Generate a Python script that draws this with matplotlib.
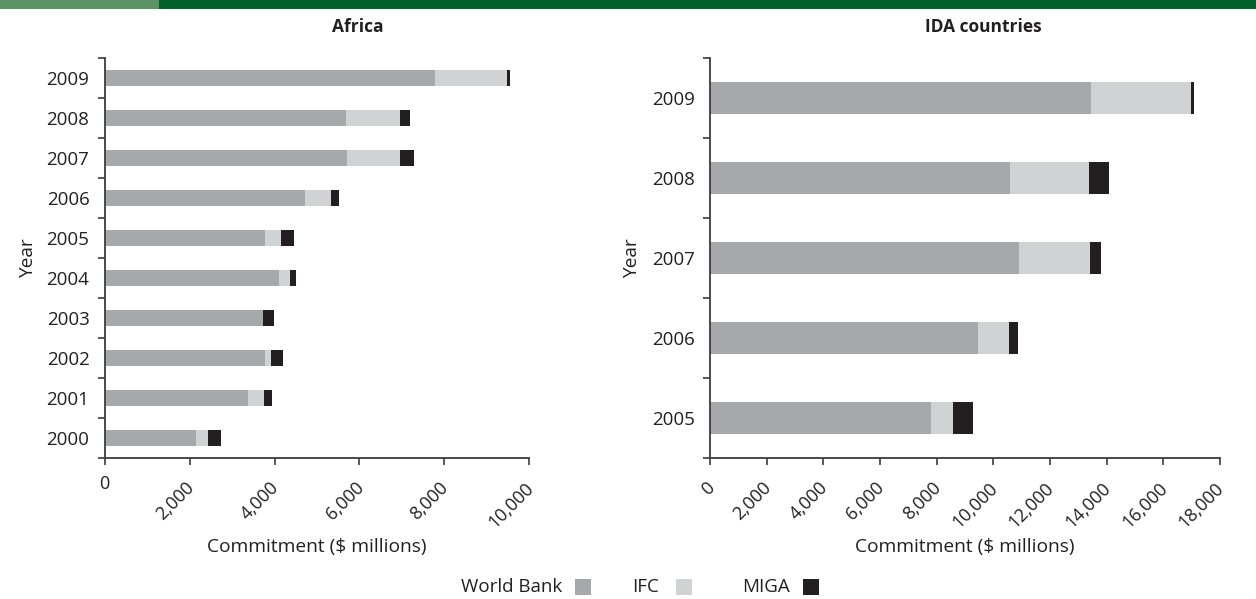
import matplotlib
matplotlib.use("Agg")
import matplotlib.pyplot as plt
from matplotlib.patches import Rectangle
from matplotlib.transforms import ScaledTranslation
import numpy as np

plt.rcParams['font.family'] = ['Open Sans', 'DejaVu Sans']

# Commitments, $ millions
africa_years = ['2000', '2001', '2002', '2003', '2004', '2005', '2006', '2007', '2008', '2009']
africa_wb = [2150, 3380, 3780, 3730, 4100, 3780, 4720, 5700, 5680, 7780]
africa_ifc = [280, 370, 140, 0, 260, 370, 610, 1250, 1270, 1690]
africa_miga = [310, 190, 280, 260, 140, 310, 190, 330, 240, 80]

ida_years = ['2005', '2006', '2007', '2008', '2009']
ida_wb = [7790, 9450, 10900, 10590, 13450]
ida_ifc = [780, 1100, 2510, 2770, 3510]
ida_miga = [710, 320, 390, 710, 110]

series_names = ['World Bank', 'IFC', 'MIGA']
series_colors = ['#a7a8ab', '#d1d2d4', '#231f20']

TEXT = '#231f20'
SPINE = '#3c3c3c'

fig = plt.figure(figsize=(12.56, 5.99), dpi=100)

# header band
fig.patches.append(Rectangle((0, 1 - 9 / 599), 1, 9 / 599, transform=fig.transFigure,
                             facecolor='#006228', edgecolor='none'))
fig.patches.append(Rectangle((0, 1 - 9 / 599), 159 / 1256, 9 / 599, transform=fig.transFigure,
                             facecolor='#5b9367', edgecolor='none'))


def stacked_panel(ax, years, parts, xmax, rotate_zero, ylabel_x):
    n = len(years)
    y = np.arange(n)
    left = np.zeros(n)
    for vals, color in zip(parts, series_colors):
        vals = np.asarray(vals, dtype=float)
        ax.barh(y, vals, left=left, height=0.4, color=color, edgecolor='none')
        left += vals
    ax.set_xlim(0, xmax)
    ax.set_ylim(-0.5, n - 0.5)
    for s in ['top', 'right']:
        ax.spines[s].set_visible(False)
    for s in ['left', 'bottom']:
        ax.spines[s].set_color(SPINE)
        ax.spines[s].set_linewidth(1.3)
    # category boundaries get tick marks, centres get labels
    ax.set_yticks(np.arange(n + 1) - 0.5)
    ax.set_yticklabels([])
    ax.set_yticks(y, minor=True)
    ax.set_yticklabels(years, minor=True)
    ax.tick_params(axis='y', which='major', length=5, width=1.2, color=SPINE, direction='out')
    ax.tick_params(axis='y', which='minor', length=0, pad=11, labelsize=13.5, labelcolor=TEXT)
    xt = np.arange(0, xmax + 1, 2000)
    ax.set_xticks(xt)
    ax.set_xticklabels([f'{v:,}' for v in xt])
    ax.tick_params(axis='x', length=5, width=1.2, color=SPINE, direction='out',
                   labelsize=13, labelcolor=TEXT, pad=10)
    shift = ScaledTranslation(-5 / 100, 0, fig.dpi_scale_trans)
    for i, lab in enumerate(ax.get_xticklabels()):
        if i == 0 and not rotate_zero:
            lab.set_rotation(0)
            lab.set_ha('center')
            lab.set_va('top')
            lab.set_transform(lab.get_transform() + ScaledTranslation(0, 4 / 100, fig.dpi_scale_trans))
        else:
            lab.set_rotation(45)
            lab.set_ha('right')
            lab.set_va('top')
            lab.set_rotation_mode('anchor')
            lab.set_transform(lab.get_transform() + shift)
    ax.set_xlabel('Commitment ($ millions)', fontsize=13.8, color=TEXT)
    ax.xaxis.set_label_coords(0.5, -0.222)
    ax.xaxis.label.set_va('center')
    ax.set_ylabel('Year', fontsize=13.8, color=TEXT)
    ax.yaxis.set_label_coords(ylabel_x, 0.5)
    ax.yaxis.label.set_va('center')


ax1 = fig.add_axes([104.7 / 1256, 1 - 458 / 599, 424.6 / 1256, 400.2 / 599])
stacked_panel(ax1, africa_years, [africa_wb, africa_ifc, africa_miga], 10000, False, -0.181)

ax2 = fig.add_axes([710.0 / 1256, 1 - 458 / 599, 510.0 / 1256, 400.2 / 599])
stacked_panel(ax2, ida_years, [ida_wb, ida_ifc, ida_miga], 18000, True, -0.153)

fig.text(358 / 1256, 1 - 27 / 599, 'Africa', ha='center', va='center',
         fontsize=12.5, fontweight='bold', color=TEXT)
fig.text(983 / 1256, 1 - 27 / 599, 'IDA countries', ha='center', va='center',
         fontsize=12.5, fontweight='bold', color=TEXT)

# legend: label followed by a swatch
leg_text_x = [461, 632, 742]
leg_box_x = [575, 676, 803]
for name, color, tx, bx in zip(series_names, series_colors, leg_text_x, leg_box_x):
    fig.text(tx / 1256, 1 - 587 / 599, name, ha='left', va='center', fontsize=13.5, color=TEXT)
    fig.patches.append(Rectangle((bx / 1256, 1 - 595 / 599), 16 / 1256, 16 / 599,
                                 transform=fig.transFigure, facecolor=color, edgecolor='none'))

fig.savefig('out.png', dpi=100)
